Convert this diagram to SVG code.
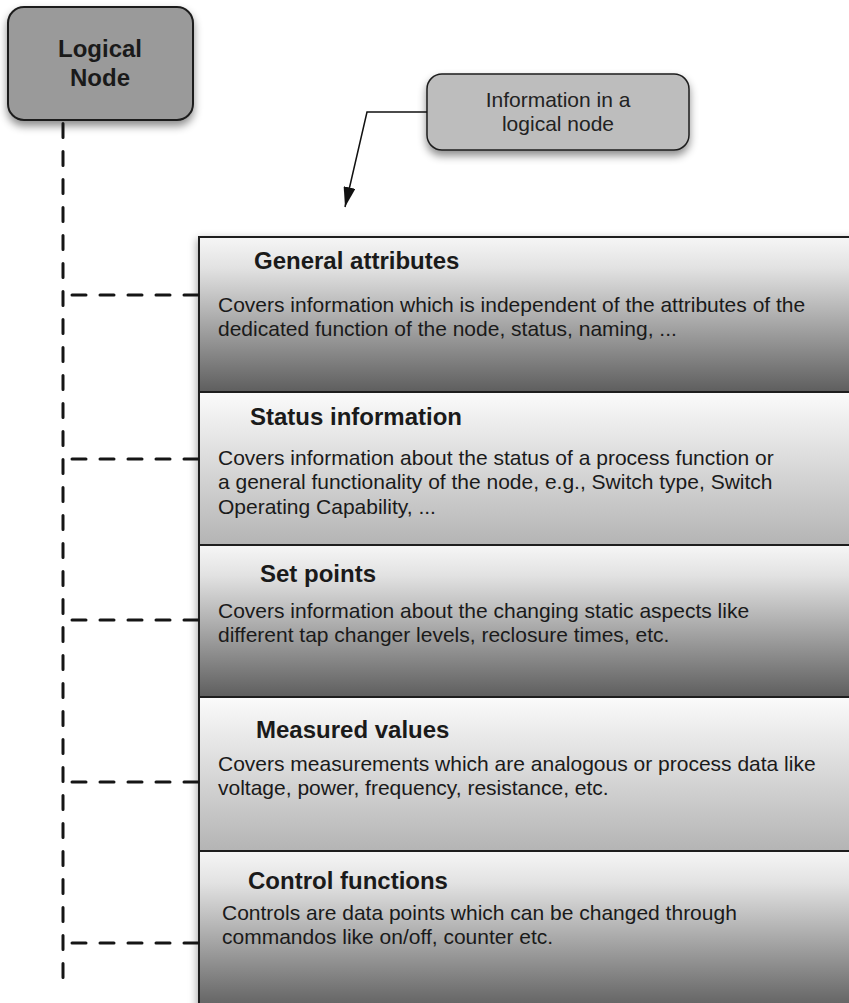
<svg xmlns="http://www.w3.org/2000/svg" width="849" height="1003" viewBox="0 0 849 1003">
  <style>
    .title { font-family: "Liberation Sans", Arial, sans-serif; font-weight: bold; font-size: 24px; fill: #1a1a1a; }
    .desc { font-family: "Liberation Sans", Arial, sans-serif; font-size: 21px; fill: #1a1a1a; }
    .label { font-family: "Liberation Sans", Arial, sans-serif; font-size: 21px; fill: #222; text-anchor: middle; }
    .sec { stroke: #1e1e1e; stroke-width: 2; }
    .dash { fill: none; stroke: #151515; stroke-width: 3; stroke-dasharray: 14 14; stroke-linecap: round; }
  </style>
  <defs>
    <linearGradient id="gDark" x1="0" y1="0" x2="0" y2="1">
      <stop offset="0" stop-color="#f6f6f6"/>
      <stop offset="0.2" stop-color="#e2e2e2"/>
      <stop offset="1" stop-color="#5e5e5e"/>
    </linearGradient>
    <linearGradient id="gLight" x1="0" y1="0" x2="0" y2="1">
      <stop offset="0" stop-color="#fbfbfb"/>
      <stop offset="1" stop-color="#b4b4b4"/>
    </linearGradient>
    <filter id="shadow" x="-20%" y="-20%" width="140%" height="150%">
      <feDropShadow dx="0" dy="5" stdDeviation="4" flood-color="#000" flood-opacity="0.45"/>
    </filter>
    <filter id="shadowL" x="-10%" y="-10%" width="120%" height="120%">
      <feDropShadow dx="-2" dy="2" stdDeviation="4" flood-color="#000" flood-opacity="0.35"/>
    </filter>
    <marker id="arrow" markerWidth="20" markerHeight="12" refX="20" refY="6" orient="auto" markerUnits="userSpaceOnUse">
      <path d="M0,0 L20,6 L0,12 z" fill="#111"/>
    </marker>
  </defs>

  <!-- Main stacked box shadow -->
  <rect x="199" y="237" width="670" height="780" fill="#ffffff" filter="url(#shadowL)"/>

  <g id="node-logical">
    <rect x="8" y="7" width="185" height="113" rx="16" ry="16" fill="#9a9a9a" stroke="#1e1e1e" stroke-width="2" filter="url(#shadow)"/>
    <text class="title" x="100" y="57" text-anchor="middle">Logical</text>
    <text class="title" x="100" y="86" text-anchor="middle">Node</text>
  </g>

  <g id="node-info">
    <rect x="427" y="74" width="262" height="76" rx="15" ry="15" fill="#bdbdbd" stroke="#1e1e1e" stroke-width="1.5" filter="url(#shadow)"/>
    <text class="label" x="558" y="107">Information in a</text>
    <text class="label" x="558" y="131">logical node</text>
  </g>

  <g id="node-general">
    <rect class="sec" x="199" y="237" width="670" height="155" fill="url(#gDark)"/>
    <text class="title" x="254" y="269">General attributes</text>
    <text class="desc" x="218" y="312">Covers information which is independent of the attributes of the</text>
    <text class="desc" x="218" y="336">dedicated function of the node, status, naming, ...</text>
  </g>

  <g id="node-status">
    <rect class="sec" x="199" y="392" width="670" height="153" fill="url(#gLight)"/>
    <text class="title" x="250" y="425">Status information</text>
    <text class="desc" x="218" y="465">Covers information about the status of a process function or</text>
    <text class="desc" x="218" y="489">a general functionality of the node, e.g., Switch type, Switch</text>
    <text class="desc" x="218" y="514">Operating Capability, ...</text>
  </g>

  <g id="node-setpoints">
    <rect class="sec" x="199" y="545" width="670" height="152" fill="url(#gDark)"/>
    <text class="title" x="260" y="582">Set points</text>
    <text class="desc" x="218" y="618">Covers information about the changing static aspects like</text>
    <text class="desc" x="218" y="642">different tap changer levels, reclosure times, etc.</text>
  </g>

  <g id="node-measured">
    <rect class="sec" x="199" y="697" width="670" height="154" fill="url(#gLight)"/>
    <text class="title" x="256" y="738">Measured values</text>
    <text class="desc" x="218" y="771">Covers measurements which are analogous or process data like</text>
    <text class="desc" x="218" y="795">voltage, power, frequency, resistance, etc.</text>
  </g>

  <g id="node-control">
    <rect class="sec" x="199" y="851" width="670" height="160" fill="url(#gDark)"/>
    <text class="title" x="248" y="889">Control functions</text>
    <text class="desc" x="222" y="920">Controls are data points which can be changed through</text>
    <text class="desc" x="222" y="944">commandos like on/off, counter etc.</text>
  </g>

  <g id="connectors">
    <path class="dash" d="M63,123.5 L63,980"/>
    <path class="dash" d="M72,295 L199,295"/>
    <path class="dash" d="M72,459 L199,459"/>
    <path class="dash" d="M72,620 L199,620"/>
    <path class="dash" d="M72,782 L199,782"/>
    <path class="dash" d="M72,943 L199,943"/>
    <path d="M427,112 L367,112 L345,207" fill="none" stroke="#111" stroke-width="1.5" marker-end="url(#arrow)"/>
  </g>
</svg>
